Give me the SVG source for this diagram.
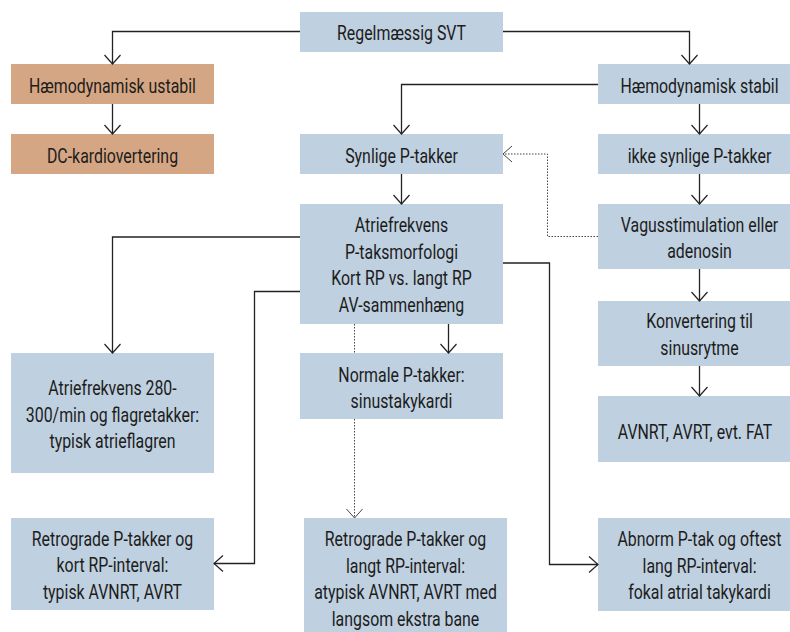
<svg xmlns="http://www.w3.org/2000/svg" width="790" height="632" viewBox="0 0 790 632">
<style>
  .b { fill: #bfd0e0; }
  .o { fill: #d5a683; }
  .t { font-family: Roboto, "Liberation Sans", sans-serif; font-size: 19.5px; fill: #1c1c1c; text-anchor: middle; }
  .c { fill: none; stroke: #222; stroke-width: 1.3; }
  .d { fill: none; stroke: #444; stroke-width: 1; stroke-dasharray: 1.5 1.5; }
</style>
<defs>
  <marker id="a" viewBox="-10 -10 20 20" markerWidth="20" markerHeight="20" refX="0" refY="0" orient="auto" markerUnits="userSpaceOnUse" overflow="visible">
    <path d="M-9,-8 L0,0 L-9,8" fill="none" stroke="#222" stroke-width="1.2"/>
  </marker>
  <marker id="ad" viewBox="-10 -10 20 20" markerWidth="20" markerHeight="20" refX="0" refY="0" orient="auto" markerUnits="userSpaceOnUse" overflow="visible">
    <path d="M-9,-8 L0,0 L-9,8" fill="none" stroke="#444" stroke-width="1"/>
  </marker>
</defs>
<rect width="790" height="632" fill="#fff"/>

<g id="n-svt"><rect class="b" x="300" y="12" width="203" height="40"/>
<text class="t" transform="translate(401.5,40) scale(0.815,1)" x="0" y="0">Regelmæssig SVT</text></g>

<g id="n-ustabil"><rect class="o" x="11" y="64" width="203" height="40"/>
<text class="t" transform="translate(112.5,93) scale(0.815,1)" x="0" y="0">Hæmodynamisk ustabil</text></g>

<g id="n-dc"><rect class="o" x="11" y="134" width="203" height="40"/>
<text class="t" transform="translate(112.5,163) scale(0.815,1)" x="0" y="0">DC-kardiovertering</text></g>

<g id="n-stabil"><rect class="b" x="598" y="64" width="203" height="40"/>
<text class="t" transform="translate(699.5,93) scale(0.815,1)" x="0" y="0">Hæmodynamisk stabil</text></g>

<g id="n-synlige"><rect class="b" x="300" y="134" width="203" height="40"/>
<text class="t" transform="translate(401.5,163) scale(0.815,1)" x="0" y="0">Synlige P-takker</text></g>

<g id="n-ikke"><rect class="b" x="598" y="134" width="203" height="40"/>
<text class="t" transform="translate(699.5,163) scale(0.815,1)" x="0" y="0">ikke synlige P-takker</text></g>

<g id="n-atrie"><rect class="b" x="300" y="204" width="203" height="120"/>
<text class="t" transform="translate(401.5,232) scale(0.815,1)"><tspan x="0" y="0">Atriefrekvens</tspan><tspan x="0" y="26.6">P-taksmorfologi</tspan><tspan x="0" y="53.2">Kort RP vs. langt RP</tspan><tspan x="0" y="79.8">AV-sammenhæng</tspan></text></g>

<g id="n-vagus"><rect class="b" x="598" y="204" width="203" height="65"/>
<text class="t" transform="translate(699.5,231.5) scale(0.815,1)"><tspan x="0" y="0">Vagusstimulation eller</tspan><tspan x="0" y="26.6">adenosin</tspan></text></g>

<g id="n-konv"><rect class="b" x="598" y="301" width="203" height="65"/>
<text class="t" transform="translate(699.5,328) scale(0.815,1)"><tspan x="0" y="0">Konvertering til</tspan><tspan x="0" y="26.6">sinusrytme</tspan></text></g>

<g id="n-avnrt"><rect class="b" x="598" y="396" width="203" height="66"/>
<text class="t" transform="translate(695,438.5) scale(0.815,1)" x="0" y="0">AVNRT, AVRT, evt. FAT</text></g>

<g id="n-normale"><rect class="b" x="300" y="353" width="203" height="66"/>
<text class="t" transform="translate(401.5,381.5) scale(0.815,1)"><tspan x="0" y="0">Normale P-takker:</tspan><tspan x="0" y="26.6">sinustakykardi</tspan></text></g>

<g id="n-flagren"><rect class="b" x="11" y="353" width="203" height="120"/>
<text class="t" transform="translate(112.5,395) scale(0.815,1)"><tspan x="0" y="0">Atriefrekvens 280-</tspan><tspan x="0" y="26.6">300/min og flagretakker:</tspan><tspan x="0" y="53.2">typisk atrieflagren</tspan></text></g>

<g id="n-kort"><rect class="b" x="11" y="518" width="203" height="92"/>
<text class="t" transform="translate(112.5,545.5) scale(0.815,1)"><tspan x="0" y="0">Retrograde P-takker og</tspan><tspan x="0" y="26.6">kort RP-interval:</tspan><tspan x="0" y="53.2">typisk AVNRT, AVRT</tspan></text></g>

<g id="n-langt"><rect class="b" x="304" y="518" width="203" height="120"/>
<text class="t" transform="translate(405.5,546) scale(0.815,1)"><tspan x="0" y="0">Retrograde P-takker og</tspan><tspan x="0" y="26.6">langt RP-interval:</tspan><tspan x="0" y="53.2">atypisk AVNRT, AVRT med</tspan><tspan x="0" y="79.8">langsom ekstra bane</tspan></text></g>

<g id="n-abnorm"><rect class="b" x="598" y="518" width="203" height="93"/>
<text class="t" transform="translate(699.5,546) scale(0.815,1)"><tspan x="0" y="0">Abnorm P-tak og oftest</tspan><tspan x="0" y="26.6">lang RP-interval:</tspan><tspan x="0" y="53.2">fokal atrial takykardi</tspan></text></g>

<g id="connectors">
  <path class="c" d="M300,31.5 H112.5 V64" marker-end="url(#a)"/>
  <path class="c" d="M503,31.5 H689.5 V64" marker-end="url(#a)"/>
  <path class="c" d="M112.5,104 V134" marker-end="url(#a)"/>
  <path class="c" d="M598,84.5 H401.5 V134" marker-end="url(#a)"/>
  <path class="c" d="M699.5,104 V134" marker-end="url(#a)"/>
  <path class="c" d="M401.5,174 V204" marker-end="url(#a)"/>
  <path class="c" d="M699.5,174 V204" marker-end="url(#a)"/>
  <path class="d" d="M598,236.5 H547.5 V154 H503" marker-end="url(#ad)"/>
  <path class="c" d="M699.5,269 V301" marker-end="url(#a)"/>
  <path class="c" d="M699.5,366 V396" marker-end="url(#a)"/>
  <path class="c" d="M300,237 H112.5 V353" marker-end="url(#a)"/>
  <path class="c" d="M300,291.5 H254.5 V563.5 H214" marker-end="url(#a)"/>
  <path class="c" d="M503,263 H549.5 V564.5 H598" marker-end="url(#a)"/>
  <path class="c" d="M448.5,324 V353" marker-end="url(#a)"/>
  <path class="d" d="M354.5,324 V353"/>
  <path class="d" d="M354.5,419 V518" marker-end="url(#ad)"/>
</g>
</svg>
